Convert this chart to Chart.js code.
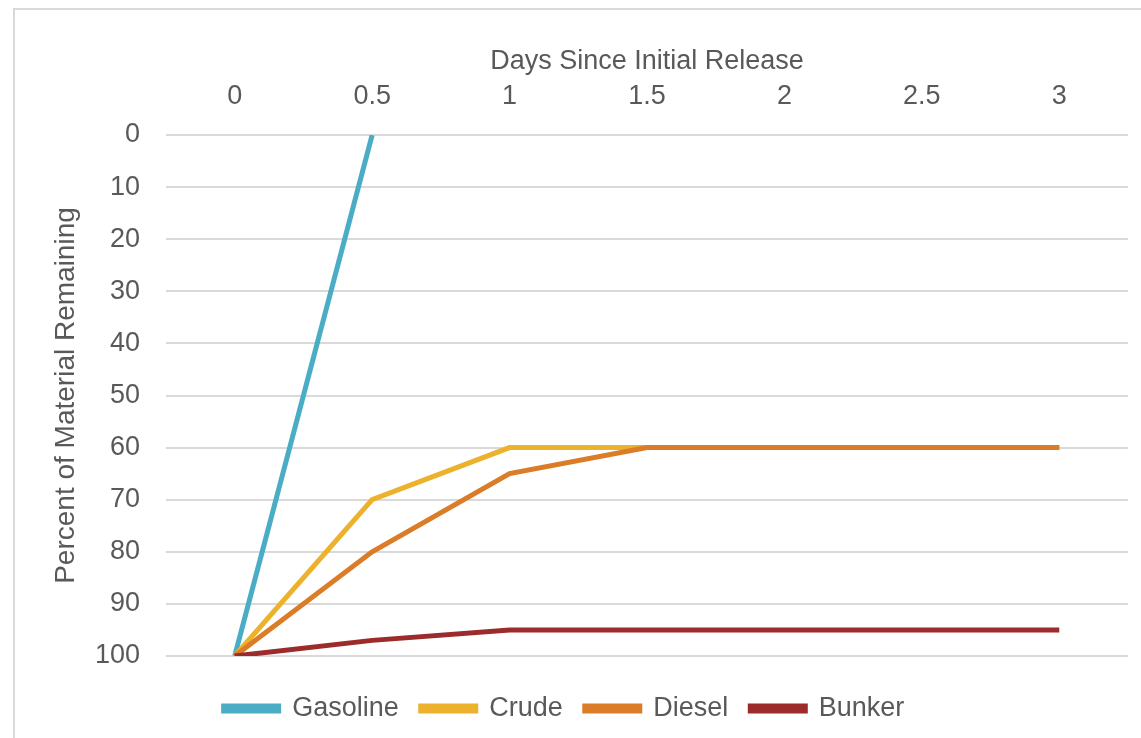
<!DOCTYPE html>
<html>
<head>
<meta charset="utf-8">
<script src="https://cdn.jsdelivr.net/npm/chart.js@4.4.0/dist/chart.umd.min.js"></script>
<style>
    html, body { margin: 0; padding: 0; background: #fff; overflow: hidden; }
    #marco {
        position: absolute; left: 13px; top: 8px;
        width: 1200px; height: 800px;
        border: 2px solid #d9d9d9;
    }
    #contenedor { position: absolute; left: 0; top: 0; width: 1141px; height: 738px; }
</style>
</head>
<body>
<div id="marco"></div>
<div id="contenedor"><canvas id="residuosChart"></canvas></div>
<script>
// Días desde la liberación inicial
const dias = ['0', '0.5', '1', '1.5', '2', '2.5', '3'];

// Porcentaje de material remanente por producto
const gasolina = [100, 0, null, null, null, null, null];
const crudo = [100, 70, 60, 60, 60, 60, 60];
const diesel = [100, 80, 65, 60, 60, 60, 60];
const bunker = [100, 97, 95, 95, 95, 95, 95];

const fuente = "'Liberation Sans', Arial, sans-serif";
const gris = '#595959';

// las series posteriores se dibujan encima (como en Excel)
function serie(nombre, datos, color, orden) {
    return {
        label: nombre,
        data: datos,
        borderColor: color,
        backgroundColor: color,
        borderWidth: 5,
        pointRadius: 0,
        tension: 0,
        order: orden
    };
}

// Baja la leyenda unos pixeles sin mover el área del gráfico
const bajarLeyenda = {
    id: 'bajarLeyenda',
    afterLayout(chart) {
        chart.legend.top += 17;
        chart.legend.bottom += 17;
    }
};

const ctx = document.getElementById('residuosChart').getContext('2d');
const residuosChart = new Chart(ctx, {
    type: 'line',
    data: {
        labels: dias,
        datasets: [
            serie('Gasoline', gasolina, '#4bacc6', 4),
            serie('Crude', crudo, '#ecb22d', 3),
            serie('Diesel', diesel, '#da7c28', 2),
            serie('Bunker', bunker, '#9c2b2b', 1)
        ]
    },
    plugins: [bajarLeyenda],
    options: {
        responsive: true,
        maintainAspectRatio: false,
        animation: false,
        layout: { padding: { left: 0, right: 13, top: 0, bottom: 23 } },
        plugins: {
            tooltip: { enabled: false },
            legend: {
                position: 'bottom',
                labels: {
                    font: { family: fuente, size: 27 },
                    color: gris,
                    boxWidth: 55,
                    boxHeight: 5,
                    padding: 22,
                    sort: (a, b) => a.datasetIndex - b.datasetIndex
                }
            }
        },
        scales: {
            x: {
                position: 'top',
                offset: true,
                grid: { display: false, drawTicks: false },
                border: { display: false },
                ticks: { color: gris, font: { family: fuente, size: 27 }, padding: 22 },
                title: {
                    display: true,
                    text: 'Days Since Initial Release',
                    color: gris,
                    font: { family: fuente, size: 27 },
                    padding: { top: 45, bottom: 0 }
                },
                afterFit: (escala) => { escala.height = 135; }
            },
            y: {
                reverse: true,
                min: 0,
                max: 100,
                ticks: { stepSize: 10, color: gris, font: { family: fuente, size: 27 }, padding: 26 },
                grid: { color: '#d9d9d9', lineWidth: 2, drawTicks: false },
                border: { display: false },
                title: {
                    display: true,
                    text: 'Percent of Material Remaining',
                    color: gris,
                    font: { family: fuente, size: 28 },
                    padding: { top: 49, bottom: 0 }
                },
                afterFit: (escala) => { escala.width = 166; }
            }
        }
    }
});
</script>
</body>
</html>
